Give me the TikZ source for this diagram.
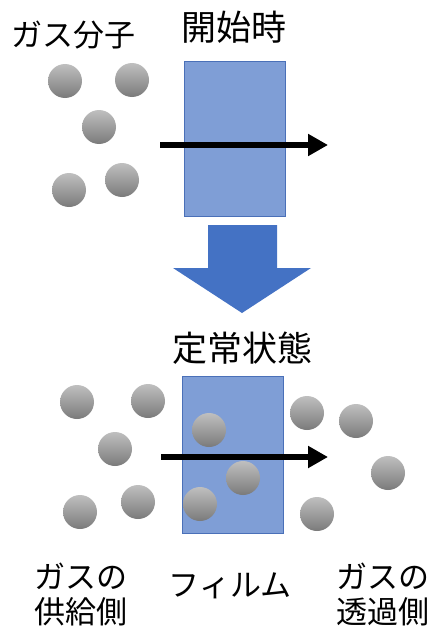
\documentclass[tikz,border=0pt]{standalone}
\usepackage{fontspec}
\newfontfamily\jp{Noto Sans CJK JP}
\usetikzlibrary{arrows.meta}
\definecolor{filmfill}{HTML}{7F9ED6}
\definecolor{filmedge}{HTML}{4A70B8}
\definecolor{bigarrow}{HTML}{4472C4}
\tikzset{
  mol/.style={circle, minimum size=34pt, inner sep=0pt,
    top color=black!25, bottom color=black!52, shading angle=0},
  film/.style={fill=filmfill, draw=filmedge, line width=0.8pt},
  flow/.style={line width=6.5pt, -{Triangle[length=20pt,width=21pt]}},
  lbl/.style={font=\jp\fontsize{31}{35}\selectfont, align=center, inner sep=0pt},
  title/.style={font=\jp\fontsize{35}{40}\selectfont, inner sep=0pt}
}
\begin{document}
\begin{tikzpicture}[x=1pt,y=-1pt]
\useasboundingbox (0,0) rectangle (432,626);

% initial state
\node[lbl] (gas) at (73,35) {ガス分子};
\node[title] (start) at (234,27) {開始時};
\draw[film] (184,61) rectangle (285,216);
\node[mol] (a1) at (65,81) {};
\node[mol] (a2) at (132,80) {};
\node[mol] (a3) at (99,127) {};
\node[mol] (a4) at (69,190) {};
\node[mol] (a5) at (122,180) {};
\coordinate (s1) at (160,145);
\coordinate (e1) at (328,145);
\draw[flow] (s1) -- (e1);

% transition arrow
\fill[bigarrow] (208,225) -- (277,225) -- (277,268) -- (311,268) -- (242,313)
  -- (173,268) -- (208,268) -- cycle;

% steady state
\node[title] (steady) at (242,348) {定常状態};
\draw[film] (182,376) rectangle (283,533);
\node[mol] (b1) at (77,402) {};
\node[mol] (b2) at (148,401) {};
\node[mol] (b3) at (115,449) {};
\node[mol] (b4) at (80,512) {};
\node[mol] (b5) at (138,502) {};
\node[mol] (c1) at (209,430) {};
\node[mol] (c2) at (243,478) {};
\node[mol] (c3) at (200,504) {};
\node[mol] (d1) at (307,413) {};
\node[mol] (d2) at (356,421) {};
\node[mol] (d3) at (388,473) {};
\node[mol] (d4) at (317,514) {};
\coordinate (s2) at (161,457);
\coordinate (e2) at (328,457);
\draw[flow] (s2) -- (e2);

% labels
\node[lbl] (feed) at (81,594) {ガスの\\供給側};
\node[lbl] (filmlbl) at (230,586) {フィルム};
\node[lbl] (perm) at (383,594) {ガスの\\透過側};
\end{tikzpicture}
\end{document}
